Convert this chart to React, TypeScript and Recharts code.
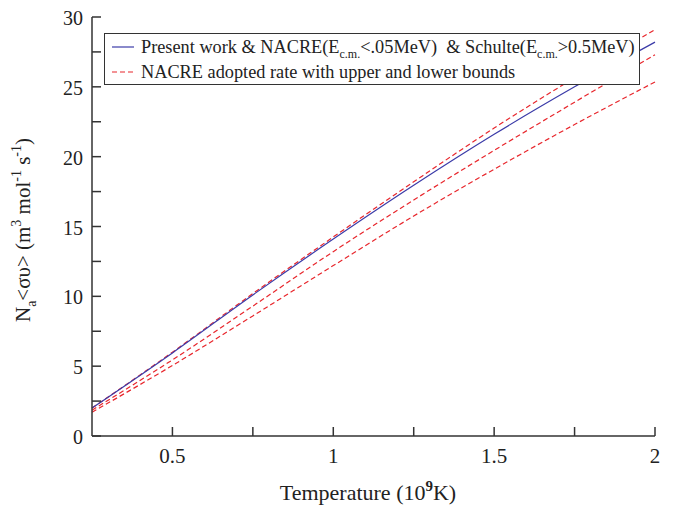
import { LineChart, Line, XAxis, YAxis, Legend } from "recharts";

const FONT = '"Liberation Serif", serif';
const INK = "#222";
const FRAME = "#333";
const BLUE = "#3b3ba8";
const RED = "#e8262c";

// temperature in 10^9 K
const temps = [0.25, 0.5, 0.75, 1, 1.25, 1.5, 1.75, 2];
// N_a<σv> in m^3 mol^-1 s^-1
const presentWork = [2.0, 5.95, 10.1, 14.1, 17.95, 21.6, 25.0, 28.2];
const nacreUpper = [2.0, 6.0, 10.2, 14.25, 18.2, 22.05, 25.65, 29.1];
const nacreAdopted = [1.85, 5.45, 9.3, 13.2, 16.9, 20.45, 23.9, 27.3];
const nacreLower = [1.7, 5.05, 8.6, 12.2, 15.75, 19.1, 22.3, 25.35];

const xTicks = [0.5, 0.75, 1, 1.25, 1.5, 1.75, 2];
const xLabels = [0.5, 1, 1.5, 2];
const yTicks = [0, 2.5, 5, 7.5, 10, 12.5, 15, 17.5, 20, 22.5, 25, 27.5, 30];
const yLabels = [0, 5, 10, 15, 20, 25, 30];

const rows = temps.map((t, i) => ({
  t,
  present: presentWork[i],
  upper: nacreUpper[i],
  adopted: nacreAdopted[i],
  lower: nacreLower[i],
}));

const XTick = ({ x, y, payload }: any) =>
  xLabels.includes(payload.value) ? (
    <text x={x} y={y + 27} textAnchor="middle" fontFamily={FONT} fontSize={21} fill={INK}>
      {payload.value}
    </text>
  ) : (
    <g />
  );

const YTick = ({ x, y, payload }: any) =>
  yLabels.includes(payload.value) ? (
    <text x={x - 9} y={y + 8} textAnchor="end" fontFamily={FONT} fontSize={20} fill={INK}>
      {payload.value}
    </text>
  ) : (
    <g />
  );

const XTitle = () => (
  <text x={368} y={500} textAnchor="middle" fontFamily={FONT} fontSize={22} fill={INK}>
    Temperature (10
    <tspan dy={-9} fontSize={15} fontWeight="bold">9</tspan>
    <tspan dy={9}>K)</tspan>
  </text>
);

const YTitle = () => (
  <text
    x={30}
    y={230}
    transform="rotate(-90, 30, 230)"
    textAnchor="middle"
    fontFamily={FONT}
    fontSize={21}
    fill={INK}
  >
    N
    <tspan dy={6} fontSize={14}>a</tspan>
    <tspan dy={-6}>{"<συ> (m"}</tspan>
    <tspan dy={-9} fontSize={14}>3</tspan>
    <tspan dy={9}> mol</tspan>
    <tspan dy={-9} fontSize={14}>-1</tspan>
    <tspan dy={9}> s</tspan>
    <tspan dy={-9} fontSize={14}>-1</tspan>
    <tspan dy={9}>)</tspan>
  </text>
);

const Sample = ({ color, dashed }: { color: string; dashed?: boolean }) => (
  <svg width={22} height={10} style={{ position: "absolute", left: 7, top: 8 }}>
    <line x1={0} y1={5} x2={22} y2={5} stroke={color} strokeWidth={1.2} strokeDasharray={dashed ? "5 3" : undefined} />
  </svg>
);

const sub = { fontSize: 12, verticalAlign: "-5px" } as const;

const LegendBox = () => (
  <div
    style={{
      width: 536,
      height: 52,
      boxSizing: "border-box",
      border: `1.5px solid ${FRAME}`,
      background: "#fff",
      fontFamily: FONT,
      fontSize: 18.3,
      color: INK,
      position: "relative",
      whiteSpace: "pre",
    }}
  >
    <div style={{ position: "absolute", left: 0, top: 0, height: 26, width: "100%" }}>
      <Sample color={BLUE} />
      <span style={{ position: "absolute", left: 36, top: 2, lineHeight: "22px" }}>
        Present work &amp; NACRE(E<span style={sub}>c.m.</span>&lt;.05MeV)  &amp; Schulte(E
        <span style={sub}>c.m.</span>&gt;0.5MeV)
      </span>
    </div>
    <div style={{ position: "absolute", left: 0, top: 25, height: 26, width: "100%" }}>
      <Sample color={RED} dashed />
      <span style={{ position: "absolute", left: 36, top: 2, lineHeight: "22px" }}>
        NACRE adopted rate with upper and lower bounds
      </span>
    </div>
  </div>
);

export default function App() {
  return (
    <div style={{ position: "absolute", left: 0, top: 0, background: "#fff" }}>
      <LineChart width={680} height={508} data={rows} margin={{ top: 17, right: 25, left: 0, bottom: 0 }}>
        <XAxis
          dataKey="t"
          type="number"
          domain={[0.25, 2]}
          ticks={xTicks}
          interval={0}
          height={72}
          stroke={FRAME}
          strokeWidth={1.5}
          tickSize={-9}
          tickMargin={9}
          tick={<XTick />}
          label={<XTitle />}
        />
        <XAxis
          xAxisId="top"
          dataKey="t"
          type="number"
          orientation="top"
          domain={[0.25, 2]}
          ticks={xTicks}
          interval={0}
          height={0}
          stroke={FRAME}
          strokeWidth={1.5}
          tickSize={-9}
          tickMargin={9}
          tickFormatter={() => ""}
        />
        <YAxis
          type="number"
          domain={[0, 30]}
          ticks={yTicks}
          interval={0}
          width={92}
          stroke={FRAME}
          strokeWidth={1.5}
          tickSize={-9}
          tickMargin={9}
          tick={<YTick />}
          label={<YTitle />}
        />
        <YAxis
          yAxisId="right"
          type="number"
          orientation="right"
          domain={[0, 30]}
          ticks={yTicks}
          interval={0}
          width={0}
          stroke={FRAME}
          strokeWidth={1.5}
          tickSize={-9}
          tickMargin={9}
          tickFormatter={() => ""}
        />
        <Legend
          content={<LegendBox />}
          layout="vertical"
          align="center"
          verticalAlign="middle"
          wrapperStyle={{ left: 104, top: 33, width: 536 }}
        />
        <Line type="monotone" dataKey="upper" stroke={RED} strokeWidth={1.2} strokeDasharray="5 3" dot={false} isAnimationActive={false} />
        <Line type="monotone" dataKey="adopted" stroke={RED} strokeWidth={1.2} strokeDasharray="5 3" dot={false} isAnimationActive={false} />
        <Line type="monotone" dataKey="lower" stroke={RED} strokeWidth={1.2} strokeDasharray="5 3" dot={false} isAnimationActive={false} />
        <Line type="monotone" dataKey="present" stroke={BLUE} strokeWidth={1.2} dot={false} isAnimationActive={false} />
        <Line
          xAxisId="top"
          yAxisId="right"
          dataKey="present"
          stroke="none"
          dot={false}
          legendType="none"
          isAnimationActive={false}
        />
      </LineChart>
    </div>
  );
}
